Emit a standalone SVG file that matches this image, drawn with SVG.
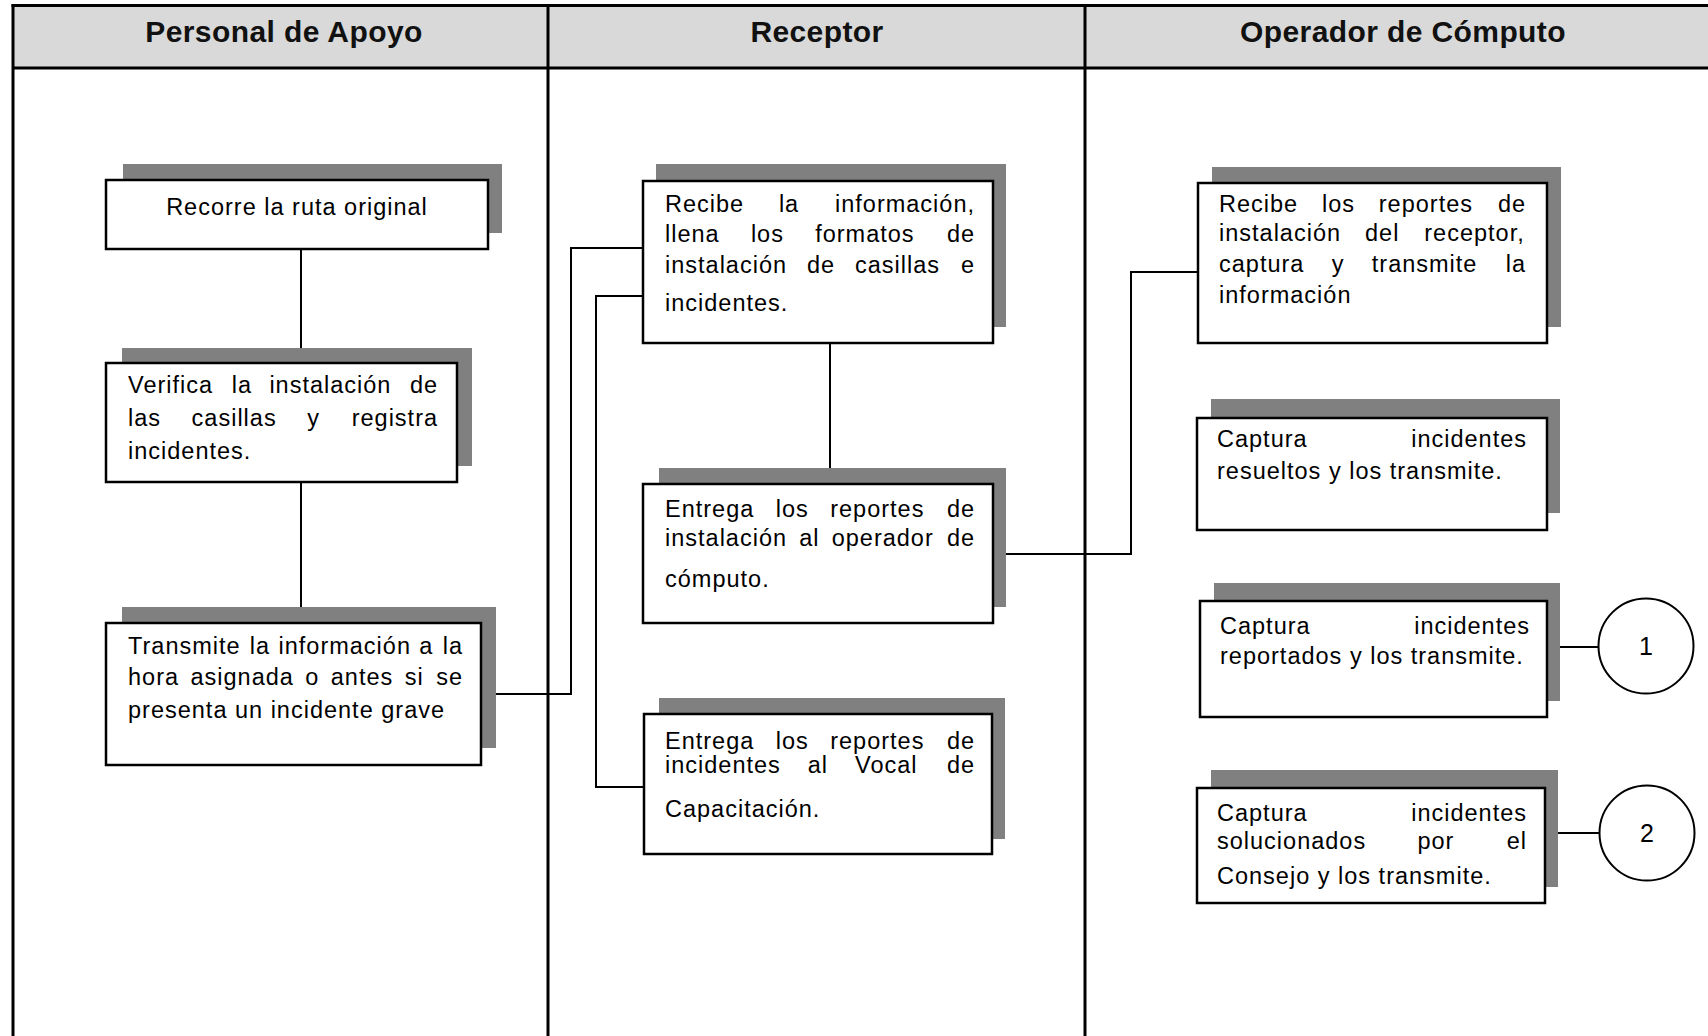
<svg xmlns="http://www.w3.org/2000/svg" width="1708" height="1036" viewBox="0 0 1708 1036">
<style>
.bg{fill:#fff}
.hdr{fill:#d9d9d9}
.frame{stroke:#000;stroke-width:3;fill:none}
.shadow{fill:#808080}
.box{fill:#fff;stroke:#000;stroke-width:2.5}
.conn{stroke:#000;stroke-width:2;fill:none}
.circ{fill:#fff;stroke:#000;stroke-width:2}
.t{font-family:"Liberation Sans",Arial,sans-serif;font-size:23.5px;letter-spacing:1px;fill:#000}
.h{font-family:"Liberation Sans",Arial,sans-serif;font-size:30px;font-weight:bold;letter-spacing:0.4px;text-anchor:middle;fill:#111}
.n{font-family:"Liberation Sans",Arial,sans-serif;font-size:25px;text-anchor:middle;fill:#000}
</style>
<rect class="bg" x="0" y="0" width="1708" height="1036"/>
<g id="lanes">
<rect class="hdr" x="13" y="5.5" width="1695" height="62.5"/>
<line class="frame" x1="11.5" y1="5.5" x2="1708" y2="5.5"/>
<line class="frame" x1="13" y1="68" x2="1708" y2="68"/>
<line class="frame" x1="13" y1="4" x2="13" y2="1036"/>
<line class="frame" x1="548" y1="4" x2="548" y2="1036"/>
<line class="frame" x1="1085" y1="4" x2="1085" y2="1036"/>
<text class="h" x="284" y="42">Personal de Apoyo</text>
<text class="h" x="817" y="42">Receptor</text>
<text class="h" x="1403" y="42">Operador de Cómputo</text>
</g>
<g id="connectors">
<line class="conn" x1="301" y1="249" x2="301" y2="363"/>
<line class="conn" x1="301" y1="483" x2="301" y2="623"/>
<polyline class="conn" points="481,694 571,694 571,248 643,248"/>
<polyline class="conn" points="643,296 596,296 596,787 644,787"/>
<line class="conn" x1="830" y1="343" x2="830" y2="484"/>
<polyline class="conn" points="993,554 1131,554 1131,272 1198,272"/>
<line class="conn" x1="1547" y1="647" x2="1599" y2="647"/>
<line class="conn" x1="1545" y1="833" x2="1600" y2="833"/>
</g>
<g id="nodeA">
<rect class="shadow" x="123" y="164" width="379" height="69"/>
<rect class="box" x="106" y="180" width="382" height="69"/>
<text class="t" x="297" y="215" text-anchor="middle">Recorre la ruta original</text>
</g>
<g id="nodeB">
<rect class="shadow" x="122" y="348" width="350" height="118"/>
<rect class="box" x="106" y="363" width="351" height="119"/>
<text class="t" y="393"><tspan x="128">Verifica</tspan><tspan x="231.8">la</tspan><tspan x="269.4">instalación</tspan><tspan x="409.9">de</tspan></text>
<text class="t" y="426"><tspan x="128">las</tspan><tspan x="191.6">casillas</tspan><tspan x="307.2">y</tspan><tspan x="351.7">registra</tspan></text>
<text class="t" x="128" y="459">incidentes.</text>
</g>
<g id="nodeC">
<rect class="shadow" x="122" y="607" width="374" height="141"/>
<rect class="box" x="106" y="623" width="375" height="142"/>
<text class="t" y="654"><tspan x="128">Transmite</tspan><tspan x="249.8">la</tspan><tspan x="278.5">información</tspan><tspan x="419.3">a</tspan><tspan x="442.7">la</tspan></text>
<text class="t" y="685"><tspan x="128">hora</tspan><tspan x="190.5">asignada</tspan><tspan x="305.3">o</tspan><tspan x="330.8">antes</tspan><tspan x="404.8">si</tspan><tspan x="436.2">se</tspan></text>
<text class="t" x="128" y="718">presenta un incidente grave</text>
</g>
<g id="nodeD">
<rect class="shadow" x="656" y="164" width="350" height="163"/>
<rect class="box" x="643" y="181" width="350" height="162"/>
<text class="t" y="212"><tspan x="665">Recibe</tspan><tspan x="778.9">la</tspan><tspan x="835">información,</tspan></text>
<text class="t" y="242"><tspan x="665">llena</tspan><tspan x="750.9">los</tspan><tspan x="815.2">formatos</tspan><tspan x="946.9">de</tspan></text>
<text class="t" y="273"><tspan x="665">instalación</tspan><tspan x="806.9">de</tspan><tspan x="855">casillas</tspan><tspan x="960.9">e</tspan></text>
<text class="t" x="665" y="311">incidentes.</text>
</g>
<g id="nodeE">
<rect class="shadow" x="659" y="468" width="347" height="139"/>
<rect class="box" x="643" y="484" width="350" height="139"/>
<text class="t" y="517"><tspan x="665">Entrega</tspan><tspan x="775.8">los</tspan><tspan x="830.2">reportes</tspan><tspan x="946.9">de</tspan></text>
<text class="t" y="546"><tspan x="665">instalación</tspan><tspan x="799.2">al</tspan><tspan x="831.7">operador</tspan><tspan x="946.9">de</tspan></text>
<text class="t" x="665" y="587">cómputo.</text>
</g>
<g id="nodeF">
<rect class="shadow" x="659" y="698" width="346" height="141"/>
<rect class="box" x="644" y="714" width="348" height="140"/>
<text class="t" y="749"><tspan x="665">Entrega</tspan><tspan x="775.8">los</tspan><tspan x="830.2">reportes</tspan><tspan x="946.9">de</tspan></text>
<text class="t" y="773"><tspan x="665">incidentes</tspan><tspan x="807.8">al</tspan><tspan x="855.1">Vocal</tspan><tspan x="946.9">de</tspan></text>
<text class="t" x="665" y="817">Capacitación.</text>
</g>
<g id="nodeG">
<rect class="shadow" x="1212" y="167" width="349" height="160"/>
<rect class="box" x="1198" y="183" width="349" height="160"/>
<text class="t" y="212"><tspan x="1219">Recibe</tspan><tspan x="1322">los</tspan><tspan x="1378.8">reportes</tspan><tspan x="1497.9">de</tspan></text>
<text class="t" y="241"><tspan x="1219">instalación</tspan><tspan x="1365">del</tspan><tspan x="1424.3">receptor,</tspan></text>
<text class="t" y="272"><tspan x="1219">captura</tspan><tspan x="1331.7">y</tspan><tspan x="1371.8">transmite</tspan><tspan x="1505.7">la</tspan></text>
<text class="t" x="1219" y="303">información</text>
</g>
<g id="nodeH">
<rect class="shadow" x="1211" y="399" width="349" height="114"/>
<rect class="box" x="1197" y="418" width="350" height="112"/>
<text class="t" y="447"><tspan x="1217">Captura</tspan><tspan x="1411.2">incidentes</tspan></text>
<text class="t" x="1217" y="479">resueltos y los transmite.</text>
</g>
<g id="nodeI">
<rect class="shadow" x="1214" y="583" width="346" height="118"/>
<rect class="box" x="1200" y="601" width="347" height="116"/>
<text class="t" y="634"><tspan x="1220">Captura</tspan><tspan x="1414.2">incidentes</tspan></text>
<text class="t" x="1220" y="664">reportados y los transmite.</text>
</g>
<g id="nodeJ">
<rect class="shadow" x="1211" y="770" width="347" height="117"/>
<rect class="box" x="1197" y="788" width="348" height="115"/>
<text class="t" y="821"><tspan x="1217">Captura</tspan><tspan x="1411.2">incidentes</tspan></text>
<text class="t" y="849"><tspan x="1217">solucionados</tspan><tspan x="1417.4">por</tspan><tspan x="1506.7">el</tspan></text>
<text class="t" x="1217" y="884">Consejo y los transmite.</text>
</g>
<g id="connector1">
<circle class="circ" cx="1646" cy="646" r="47.5"/>
<text class="n" x="1646" y="655">1</text>
</g>
<g id="connector2">
<circle class="circ" cx="1647" cy="833" r="47.5"/>
<text class="n" x="1647" y="842">2</text>
</g>
</svg>
